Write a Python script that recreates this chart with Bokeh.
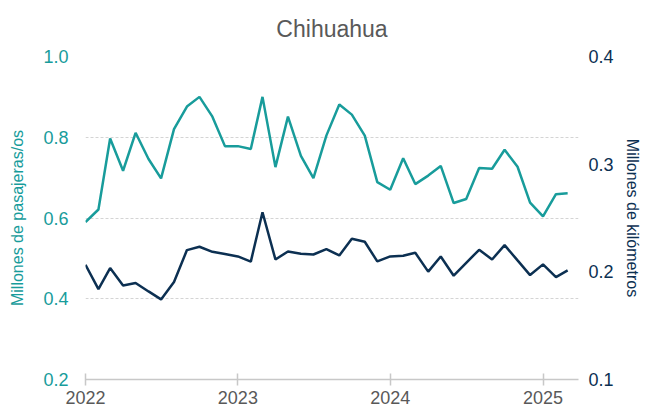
import pandas as pd
from bokeh.plotting import figure
from bokeh.models import Range1d, LinearAxis, FixedTicker, YearsTicker, DatetimeTickFormatter, NumeralTickFormatter
from bokeh.embed import file_html
from bokeh.resources import INLINE

# Monthly data Jan 2022 - Mar 2025
months = pd.date_range("2022-01-01", "2025-03-01", freq="MS")
pasajeros = [0.590, 0.621, 0.797, 0.717, 0.811, 0.746, 0.698, 0.820, 0.876, 0.900,
             0.851, 0.778, 0.778, 0.771, 0.900, 0.726, 0.851, 0.754, 0.699, 0.804,
             0.881, 0.856, 0.804, 0.689, 0.670, 0.748, 0.684, 0.705, 0.729, 0.637,
             0.647, 0.724, 0.722, 0.769, 0.727, 0.638, 0.604, 0.659, 0.661]
kilometros = [0.2065, 0.184, 0.2035, 0.1874, 0.1896, 0.1818, 0.1744, 0.1905, 0.2202, 0.2233,
              0.2186, 0.2165, 0.2143, 0.2095, 0.2553, 0.2115, 0.2189, 0.2168, 0.2161, 0.2211,
              0.2152, 0.2307, 0.2279, 0.2097, 0.2143, 0.2149, 0.2177, 0.2002, 0.2143, 0.1964,
              0.2084, 0.2205, 0.2115, 0.2248, 0.2106, 0.197, 0.2069, 0.1951, 0.2013]
left_ticks = [0.2, 0.4, 0.6, 0.8, 1.0]
right_ticks = [0.1, 0.2, 0.3, 0.4]

TEAL = "#189c9b"
NAVY = "#0c3052"
GRAY = "#595959"
FONT = "Liberation Sans"

W, H = 649, 415
BL, BR, BT, BB = 85, 71, 56, 36
p = figure(width=W, height=H, x_axis_type="datetime", output_backend="svg",
           toolbar_location=None,
           x_range=Range1d(pd.Timestamp("2022-01-01"), pd.Timestamp("2025-03-27")),
           y_range=Range1d(0.2, 1.0),
           min_border_left=BL, min_border_right=BR, min_border_top=BT, min_border_bottom=BB)
p.extra_y_ranges = {"km": Range1d(0.1, 0.4)}

p.title.text = "Chihuahua"
p.title.align = "center"
p.title.vertical_align = "top"
p.title.text_font = FONT
p.title.text_font_size = "23px"
p.title.text_font_style = "normal"
p.title.text_color = GRAY
p.title.standoff = 26
p.outline_line_color = None
p.background_fill_color = "white"
p.border_fill_color = "white"

p.line(months, pasajeros, line_color=TEAL, line_width=2.5)
p.line(months, kilometros, line_color=NAVY, line_width=2.5, y_range_name="km")

# x axis
xa = p.xaxis[0]
xa.ticker = YearsTicker(desired_num_ticks=4)
xa.formatter = DatetimeTickFormatter(years="%Y", months="%Y", days="%Y")
xa.axis_line_color = "#c8c8c8"
xa.axis_line_width = 1.5
xa.major_tick_line_color = "#c8c8c8"
xa.major_tick_line_width = 1.5
xa.major_tick_in = 6
xa.major_tick_out = 6
xa.minor_tick_line_color = None
xa.major_label_text_font = FONT
xa.major_label_text_font_size = "18px"
xa.major_label_text_color = GRAY
xa.major_label_standoff = 5

# left axis
ya = p.yaxis[0]
ya.ticker = FixedTicker(ticks=left_ticks)
ya.formatter = NumeralTickFormatter(format="0.0")
ya.axis_line_color = None
ya.major_tick_line_color = None
ya.minor_tick_line_color = None
ya.major_tick_in = 0
ya.major_tick_out = 0
ya.major_label_text_font = FONT
ya.major_label_text_font_size = "18px"
ya.major_label_text_color = TEAL
ya.major_label_standoff = 17
ya.axis_label = "Millones de pasajeras/os"
ya.axis_label_text_font = FONT
ya.axis_label_text_font_size = "16px"
ya.axis_label_text_font_style = "normal"
ya.axis_label_text_color = TEAL
ya.axis_label_standoff = 14

# right axis
ra = LinearAxis(y_range_name="km", ticker=FixedTicker(ticks=right_ticks),
                formatter=NumeralTickFormatter(format="0.0"))
ra.axis_line_color = None
ra.major_tick_line_color = None
ra.minor_tick_line_color = None
ra.major_tick_in = 0
ra.major_tick_out = 0
ra.major_label_text_font = FONT
ra.major_label_text_font_size = "18px"
ra.major_label_text_color = NAVY
ra.major_label_standoff = 10
ra.axis_label = "Millones de kilómetros"
ra.axis_label_text_font = FONT
ra.axis_label_text_font_size = "16px"
ra.axis_label_text_font_style = "normal"
ra.axis_label_text_color = NAVY
ra.axis_label_standoff = 7
p.add_layout(ra, "right")

p.xgrid.grid_line_color = None
p.ygrid.grid_line_color = "#d4d4d4"
p.ygrid.grid_line_dash = "3 2"
p.ygrid.grid_line_width = 1

open("out.html", "w").write(file_html(p, INLINE))
